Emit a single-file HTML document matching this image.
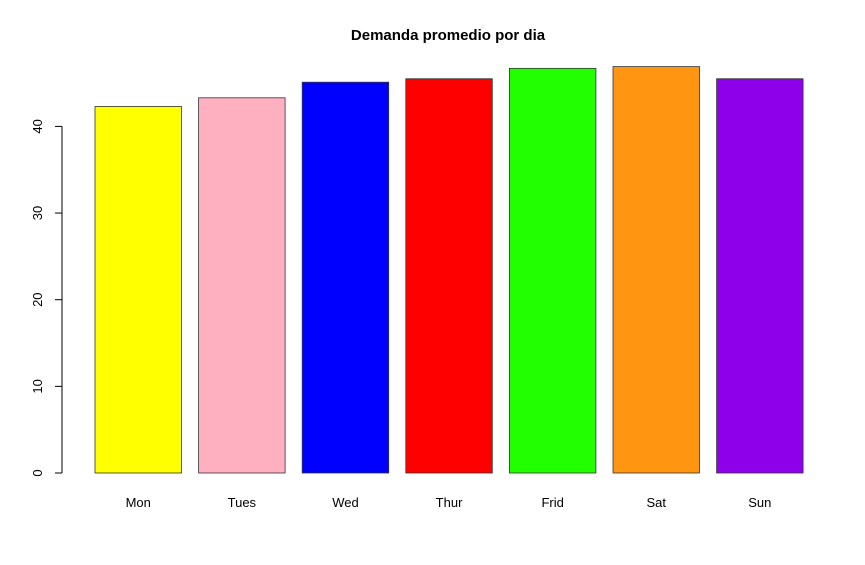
<!DOCTYPE html>
<html><head><meta charset="utf-8"><style>
body{margin:0;background:#fff}
svg text{font-family:"Liberation Sans",Arial,sans-serif}
</style></head><body>
<svg id="c" width="865" height="560">
<text x="448" y="40" text-anchor="middle" font-weight="bold" font-size="15">Demanda promedio por dia</text>
<g id="axis"></g>
<g id="bars"></g>
</svg>
<script>
const categories=["Mon","Tues","Wed","Thur","Frid","Sat","Sun"];
const values=[42.3,43.3,45.1,45.5,46.7,46.9,45.5];
const colors=["#ffff00","#ffb0c0","#0000ff","#ff0000","#22ff00","#ff9510","#8f00ea"];
const ticks=[0,10,20,30,40];
const ns="http://www.w3.org/2000/svg";
const y=v=>473-v*8.665;
const x=i=>95+i*103.6;
const bw=86.5;
function mk(t,a,p){const e=document.createElementNS(ns,t);for(const k in a)e.setAttribute(k,a[k]);p.appendChild(e);return e;}
const ax=document.getElementById('axis'),bg=document.getElementById('bars');
mk('line',{x1:62,x2:62,y1:y(ticks[0]),y2:y(ticks[ticks.length-1]),stroke:'#000'},ax);
ticks.forEach(t=>{
 const l=mk('line',{x1:55,x2:62,y1:y(t),y2:y(t),stroke:'#000'},ax);
 
 
 const tx=mk('text',{x:42,y:y(t),'font-size':13,'text-anchor':'middle',transform:`rotate(-90 42 ${y(t)})`},ax);
 tx.textContent=t;
 
 
});
categories.forEach((c,i)=>{
 const r=mk('rect',{x:x(i),y:y(values[i]),width:bw,height:y(0)-y(values[i]),fill:colors[i],stroke:'#333','stroke-width':0.8},bg);
 
 
 const t=mk('text',{x:x(i)+bw/2,y:507,'font-size':13,'text-anchor':'middle'},bg);
 t.textContent=c;
 
 
});
</script>
</body></html>
